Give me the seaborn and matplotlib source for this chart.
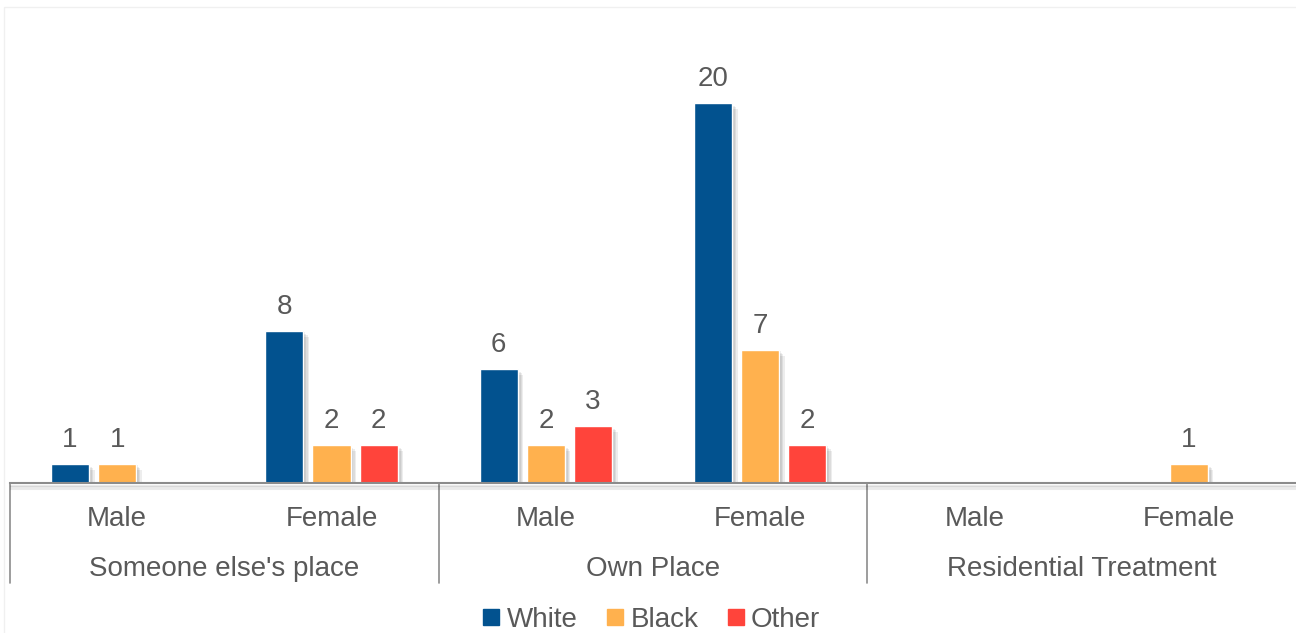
import numpy as np
import pandas as pd
import matplotlib
matplotlib.use("Agg")
import matplotlib.pyplot as plt
import matplotlib.patheffects as pe
from matplotlib.lines import Line2D
from matplotlib.patches import Rectangle
import seaborn as sns

# data
places = ["Someone else's place", "Own Place", "Residential Treatment"]
sexes = ["Male", "Female"]
races = ["White", "Black", "Other"]
white = [1, 8, 6, 20, np.nan, np.nan]
black = [1, 2, 2, 7, np.nan, 1]
other = [np.nan, 2, 3, 2, np.nan, np.nan]
colors = ["#02528F", "#FFB14E", "#FF443B"]

keys = [p + "|" + s for p in places for s in sexes]
rows = []
for race, vals in zip(races, [white, black, other]):
    for k, v in zip(keys, vals):
        if not np.isnan(v):
            rows.append({"cat": k, "race": race, "n": v})
df = pd.DataFrame(rows)

sns.set_style("white")
plt.rcParams["font.family"] = ["Liberation Sans", "DejaVu Sans"]
txt = "#595959"

fig = plt.figure(figsize=(12.96, 6.33), dpi=100)
ax = fig.add_axes([10 / 1296, 1 - 483 / 633, 1 - 10 / 1296, 475 / 633])

sns.barplot(data=df, x="cat", y="n", hue="race", order=keys, hue_order=races,
            palette=colors, width=0.66, gap=0.19, saturation=1, errorbar=None,
            legend=False, ax=ax)

# soft-ish shadow: a few faint offset copies
shadow = [pe.SimplePatchShadow(offset=(o, -o), shadow_rgbFace="black", alpha=0.07)
          for o in (1, 2, 3, 4)] + [pe.Normal()]
for cont in ax.containers:
    for b in cont:
        b.set_path_effects(shadow)
    ax.bar_label(cont, fmt="%g", padding=8, fontsize=20, color=txt)

ax.set_xlim(-0.5, 5.5)
ax.set_ylim(0, 25)
ax.set_xlabel("")
ax.set_ylabel("")
ax.set_yticks([])
ax.set_xticks([])
for s in ["top", "right", "left"]:
    ax.spines[s].set_visible(False)
ax.spines["bottom"].set_color("#8C8C8C")
ax.spines["bottom"].set_linewidth(1.5)
ax.spines["bottom"].set_path_effects(
    [pe.SimpleLineShadow(offset=(1, -o), alpha=0.08) for o in (2, 3, 4)] + [pe.Normal()])

# two-level category axis
trans = ax.get_xaxis_transform()
for i, k in enumerate(keys):
    ax.text(i, -36 / 475, k.split("|")[1], transform=trans, ha="center", va="center",
            fontsize=20, color=txt)
for j, p in enumerate(places):
    ax.text(2 * j + 0.5, -86 / 475, p, transform=trans, ha="center", va="center",
            fontsize=20, color=txt)
for xs in [-0.5, 1.5, 3.5]:
    ax.add_line(Line2D([xs, xs], [0, -100 / 475], transform=trans, color="#8C8C8C",
                       lw=1.2, clip_on=False))

# faint chart border
fig.add_artist(Rectangle((4 / 1296, -0.1), 1.2, 1 - 7 / 633 + 0.1, transform=fig.transFigure,
                         fill=False, edgecolor="#F0F0F0", lw=1))

handles = [Line2D([], [], marker="s", ls="", color=c, markersize=11) for c in colors]
fig.legend(handles, races, loc="center", bbox_to_anchor=(651 / 1296, 1 - 620 / 633), ncol=3,
           frameon=False, fontsize=20, labelcolor=txt, handletextpad=0.2,
           columnspacing=1.0, handlelength=0.7)

fig.savefig("out.png", dpi=100, facecolor="white")
